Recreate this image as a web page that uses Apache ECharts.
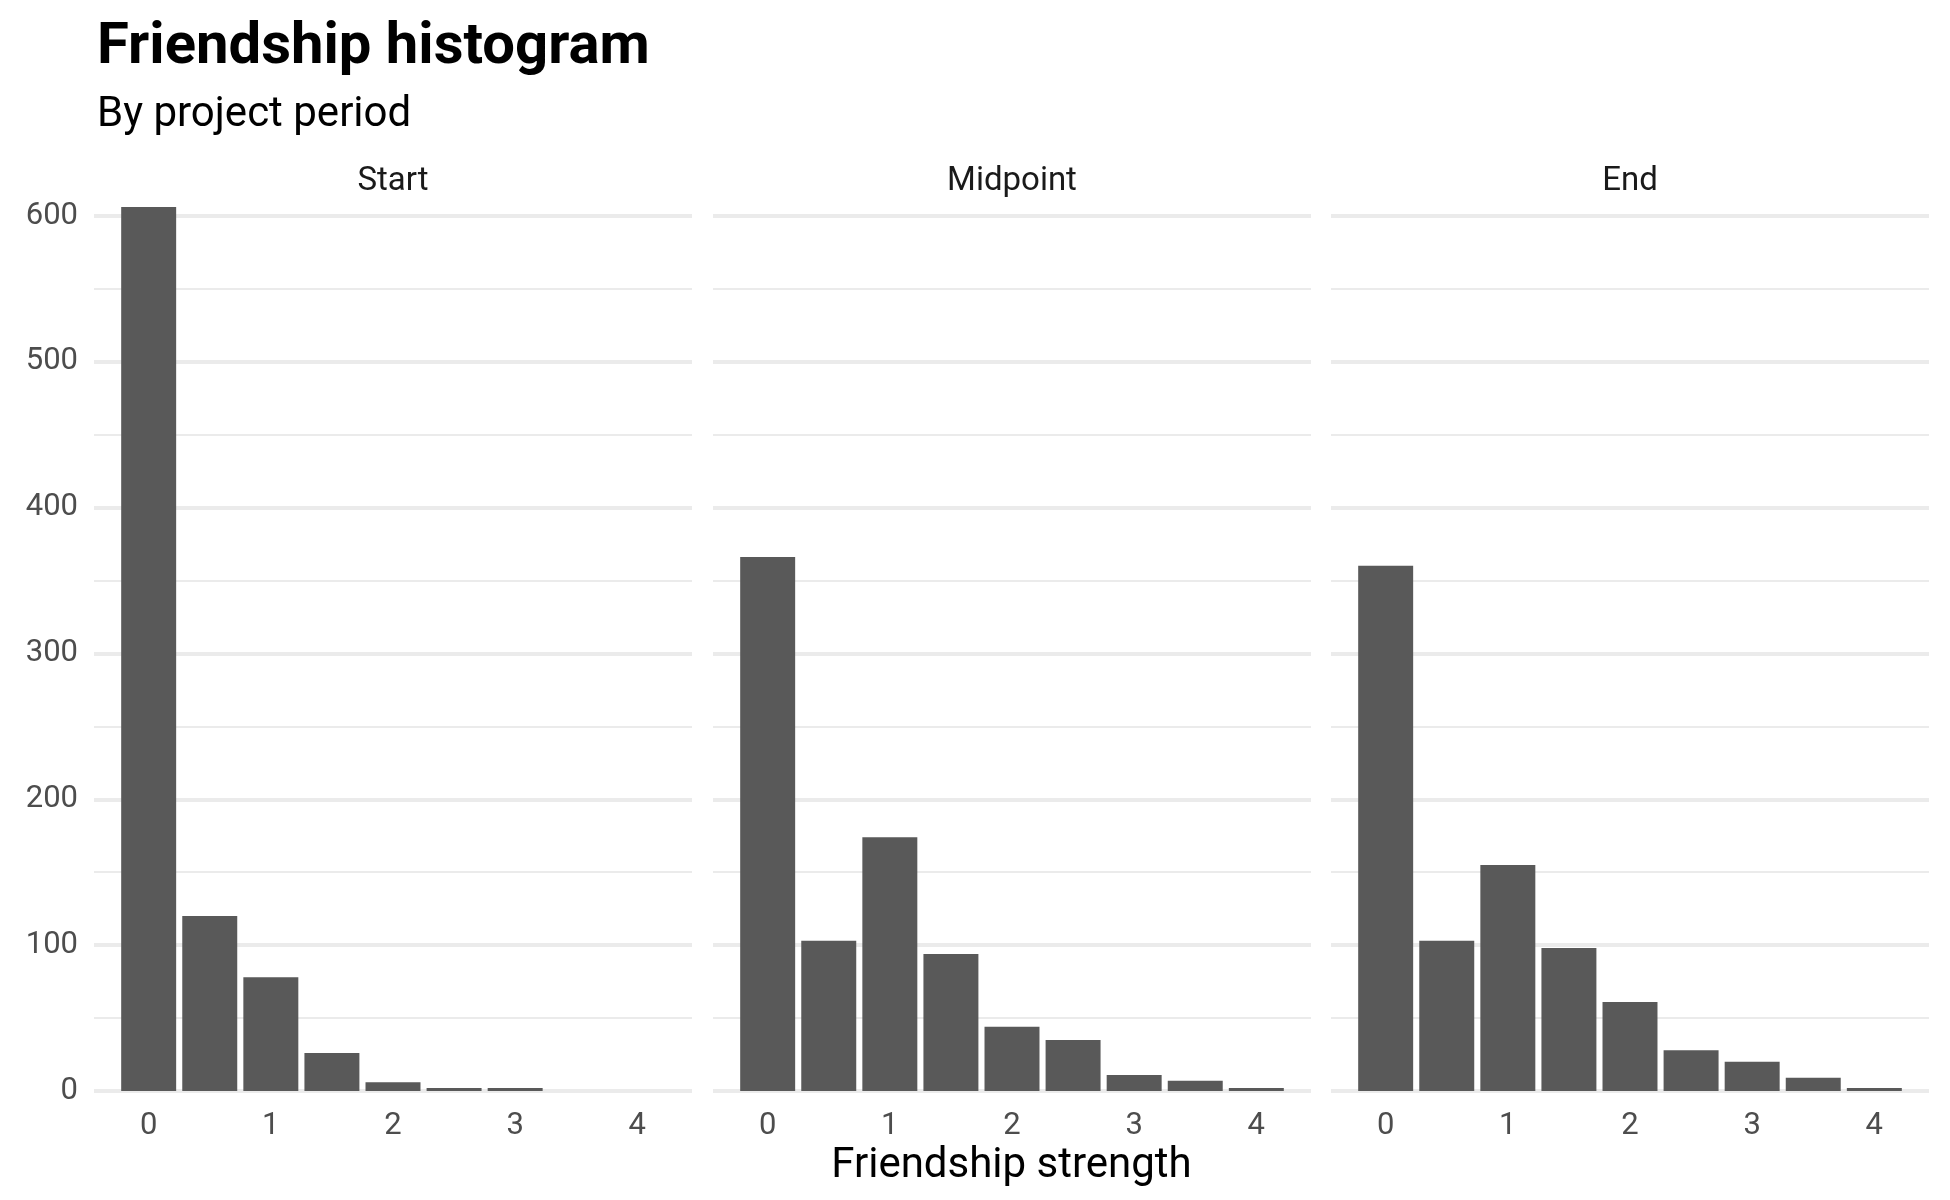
<!DOCTYPE html>
<html lang="en">
<head>
    <meta charset="UTF-8">
    <title>Friendship histogram</title>
    <script src="https://cdn.jsdelivr.net/npm/echarts@6/dist/echarts.min.js"></script>
    <style>
        html, body { margin: 0; padding: 0; background: #fff; }
        #hist_chart { width: 1950px; height: 1200px; }
    </style>
</head>
<body>
<div id="hist_chart"></div>
<script>
    // bin centres (friendship strength), bin width 0.5
    var bins = [0, 0.5, 1, 1.5, 2, 2.5, 3, 3.5, 4];
    var binWidth = 0.5;
    var periods = ['Start', 'Midpoint', 'End'];
    var startCounts = [606, 120, 78, 26, 6, 2, 2, 0, 0];
    var midpointCounts = [366, 103, 174, 94, 44, 35, 11, 7, 2];
    var endCounts = [360, 103, 155, 98, 61, 28, 20, 9, 2];
    var xTicks = [0, 1, 2, 3, 4];

    var counts = [startCounts, midpointCounts, endCounts];
    var yMax = Math.max.apply(null, startCounts.concat(midpointCounts, endCounts));

    // bars are 90% of a bin, x range expanded 5% past the bar edges
    var barFrac = 0.9;
    var lo = bins[0] - binWidth * barFrac / 2, hi = bins[bins.length - 1] + binWidth * barFrac / 2;
    var pad = (hi - lo) * 0.05;
    var xMin = lo - pad, xMax = hi + pad;

    var panelLeft = [94, 713, 1331];
    var panelWidth = 598;
    var panelTop = 207;
    var panelBottom = 109;
    var barPx = panelWidth / (xMax - xMin) * binWidth * barFrac;

    var font = 'Roboto';
    var grids = [], xAxes = [], yAxes = [], series = [], graphics = [];

    for (var i = 0; i < 3; i++) {
        grids.push({ left: panelLeft[i], width: panelWidth, top: panelTop, bottom: panelBottom });
        xAxes.push({
            type: 'value', gridIndex: i, min: xMin, max: xMax,
            axisLine: { show: false }, axisTick: { show: false }, splitLine: { show: false },
            axisLabel: {
                customValues: xTicks, margin: 20,
                color: '#4d4d4d', fontFamily: font, fontSize: 31
            }
        });
        // minor grid lines every 50
        yAxes.push({
            type: 'value', gridIndex: i, position: 'left', min: 0, max: yMax, interval: 50,
            axisLine: { show: false }, axisTick: { show: false }, axisLabel: { show: false },
            splitLine: { show: true, showMaxLine: false, lineStyle: { color: '#ebebeb', width: 2 } }
        });
        // major grid lines every 100
        yAxes.push({
            type: 'value', gridIndex: i, position: 'left', min: 0, max: yMax, interval: 100,
            axisLine: { show: false }, axisTick: { show: false },
            axisLabel: {
                show: i === 0, showMaxLabel: false, margin: 16,
                color: '#4d4d4d', fontFamily: font, fontSize: 31
            },
            splitLine: { show: true, showMaxLine: false, lineStyle: { color: '#ebebeb', width: 4 } }
        });
        series.push({
            type: 'bar', name: periods[i],
            xAxisIndex: i, yAxisIndex: 2 * i + 1,
            barWidth: barPx,
            itemStyle: { color: '#595959' },
            silent: true,
            data: bins.map(function (b, k) { return [b, counts[i][k]]; })
        });
        graphics.push({
            type: 'text', x: panelLeft[i] + panelWidth / 2, y: 182,
            style: { text: periods[i], fontFamily: font, fontSize: 33, fill: '#1a1a1a', align: 'center', verticalAlign: 'middle' }
        });
    }

    graphics.push({
        type: 'text', x: 97, y: 48,
        style: { text: 'Friendship histogram', fontFamily: font, fontSize: 58, fontWeight: 'bold', fill: '#000', align: 'left', verticalAlign: 'middle' }
    });
    graphics.push({
        type: 'text', x: 97, y: 115,
        style: { text: 'By project period', fontFamily: font, fontSize: 42, fill: '#000', align: 'left', verticalAlign: 'middle' }
    });
    graphics.push({
        type: 'text', x: (panelLeft[0] + panelLeft[2] + panelWidth) / 2, y: 1166,
        style: { text: 'Friendship strength', fontFamily: font, fontSize: 42, fill: '#000', align: 'center', verticalAlign: 'middle' }
    });

    var chart = echarts.init(document.getElementById('hist_chart'));
    chart.setOption({
        backgroundColor: '#fff',
        animation: false,
        grid: grids,
        xAxis: xAxes,
        yAxis: yAxes,
        series: series,
        graphic: graphics
    });
</script>
</body>
</html>
